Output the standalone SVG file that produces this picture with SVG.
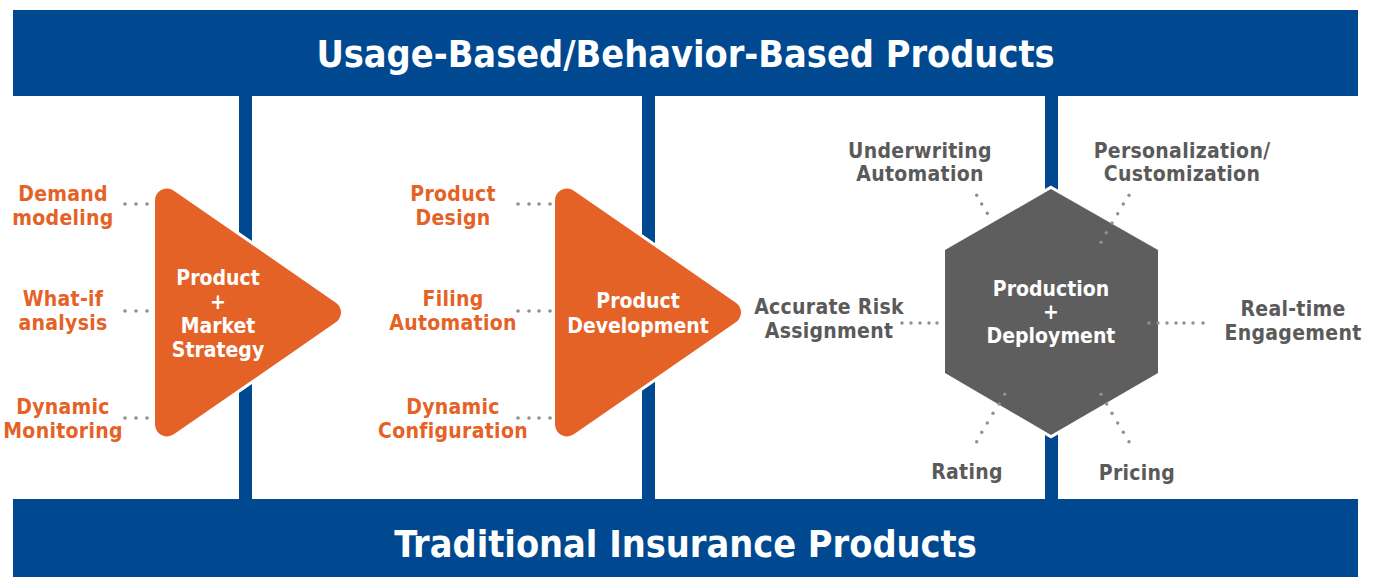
<svg xmlns="http://www.w3.org/2000/svg" width="1374" height="577" viewBox="0 0 1374 577">
  <style>
    text { font-family: "DejaVu Sans Condensed", "DejaVu Sans", sans-serif; font-stretch: condensed; font-weight: bold; text-anchor: middle; }
    .banner { fill: #004990; }
    .pillar { fill: #004990; }
    .title { fill: #ffffff; font-size: 37.5px; }
    .lbl-o { fill: #e56227; font-size: 21px; letter-spacing: 0.3px; }
    .lbl-g { fill: #5a5a5a; font-size: 21px; letter-spacing: 0.3px; }
    .in { fill: #ffffff; font-size: 21px; }
    .tri-halo { fill: #ffffff; stroke: #ffffff; stroke-width: 30; stroke-linejoin: round; }
    .tri { fill: #e56227; stroke: #e56227; stroke-width: 24; stroke-linejoin: round; }
    .hex { fill: #5e5e5e; stroke: #ffffff; stroke-width: 6; paint-order: stroke; }
    .dot { fill: #8f8f8f; }
  </style>

  <!-- frame: banners and pillars -->
  <g id="frame">
    <rect class="pillar" x="239" y="90" width="13" height="415"/>
    <rect class="pillar" x="642" y="90" width="13" height="415"/>
    <rect class="pillar" x="1045" y="90" width="13" height="415"/>
    <g id="banner-top">
      <rect class="banner" x="13" y="10" width="1345" height="86"/>
      <text class="title" x="685.5" y="67">Usage-Based/Behavior-Based Products</text>
    </g>
    <g id="banner-bottom">
      <rect class="banner" x="13" y="499" width="1345" height="78"/>
      <text class="title" x="685.5" y="557">Traditional Insurance Products</text>
    </g>
  </g>

  <!-- stage 1 -->
  <g id="node-market-strategy">
    <polygon class="tri-halo" points="167,200.5 329,312.5 167,424.5"/>
    <polygon class="tri" points="167,200.5 329,312.5 167,424.5"/>
    <text class="in" x="218" y="285">Product</text>
    <text class="in" x="218" y="309">+</text>
    <text class="in" x="218" y="333">Market</text>
    <text class="in" x="218" y="357">Strategy</text>
  </g>
  <g id="label-demand"><text class="lbl-o" x="63" y="201">Demand</text><text class="lbl-o" x="63" y="225">modeling</text></g>
  <g id="label-whatif"><text class="lbl-o" x="63" y="306">What-if</text><text class="lbl-o" x="63" y="330">analysis</text></g>
  <g id="label-monitoring"><text class="lbl-o" x="63" y="414">Dynamic</text><text class="lbl-o" x="63" y="438">Monitoring</text></g>

  <!-- stage 2 -->
  <g id="node-product-development">
    <polygon class="tri-halo" points="567,200.5 729,312.5 567,424.5"/>
    <polygon class="tri" points="567,200.5 729,312.5 567,424.5"/>
    <text class="in" x="638" y="308">Product</text>
    <text class="in" x="638" y="333">Development</text>
  </g>
  <g id="label-design"><text class="lbl-o" x="453" y="201">Product</text><text class="lbl-o" x="453" y="225">Design</text></g>
  <g id="label-filing"><text class="lbl-o" x="453" y="306">Filing</text><text class="lbl-o" x="453" y="330">Automation</text></g>
  <g id="label-configuration"><text class="lbl-o" x="453" y="414">Dynamic</text><text class="lbl-o" x="453" y="438">Configuration</text></g>

  <!-- stage 3 -->
  <g id="node-production-deployment">
    <polygon class="hex" points="1051,189 1158,250 1158,373 1051,435 945,373 945,250"/>
    <text class="in" x="1051" y="296">Production</text>
    <text class="in" x="1051" y="319">+</text>
    <text class="in" x="1051" y="343">Deployment</text>
  </g>
  <g id="label-underwriting"><text class="lbl-g" x="920" y="158">Underwriting</text><text class="lbl-g" x="920" y="181">Automation</text></g>
  <g id="label-personalization"><text class="lbl-g" x="1182" y="158">Personalization/</text><text class="lbl-g" x="1182" y="181">Customization</text></g>
  <g id="label-risk"><text class="lbl-g" x="829" y="314">Accurate Risk</text><text class="lbl-g" x="829" y="338">Assignment</text></g>
  <g id="label-engagement"><text class="lbl-g" x="1293" y="316">Real-time</text><text class="lbl-g" x="1293" y="340">Engagement</text></g>
  <g id="label-rating"><text class="lbl-g" x="967" y="479">Rating</text></g>
  <g id="label-pricing"><text class="lbl-g" x="1137" y="480">Pricing</text></g>

  <!-- dotted leaders -->
  <g id="connectors">
    <g><circle class="dot" cx="125" cy="204" r="1.8"/><circle class="dot" cx="136" cy="204" r="1.8"/><circle class="dot" cx="147" cy="204" r="1.8"/></g>
    <g><circle class="dot" cx="125" cy="311" r="1.8"/><circle class="dot" cx="136" cy="311" r="1.8"/><circle class="dot" cx="147" cy="311" r="1.8"/></g>
    <g><circle class="dot" cx="125" cy="418" r="1.8"/><circle class="dot" cx="136" cy="418" r="1.8"/><circle class="dot" cx="147" cy="418" r="1.8"/></g>

    <g><circle class="dot" cx="518" cy="204" r="1.8"/><circle class="dot" cx="529" cy="204" r="1.8"/><circle class="dot" cx="539" cy="204" r="1.8"/><circle class="dot" cx="550" cy="204" r="1.8"/></g>
    <g><circle class="dot" cx="518" cy="311" r="1.8"/><circle class="dot" cx="529" cy="311" r="1.8"/><circle class="dot" cx="539" cy="311" r="1.8"/><circle class="dot" cx="550" cy="311" r="1.8"/></g>
    <g><circle class="dot" cx="518" cy="418" r="1.8"/><circle class="dot" cx="529" cy="418" r="1.8"/><circle class="dot" cx="539" cy="418" r="1.8"/><circle class="dot" cx="550" cy="418" r="1.8"/></g>

    <g><circle class="dot" cx="902" cy="323" r="1.7"/><circle class="dot" cx="911" cy="323" r="1.7"/><circle class="dot" cx="920" cy="323" r="1.7"/><circle class="dot" cx="929" cy="323" r="1.7"/><circle class="dot" cx="937" cy="323" r="1.7"/></g>
    <g><circle class="dot" cx="1149" cy="323" r="1.7"/><circle class="dot" cx="1158" cy="323" r="1.7"/><circle class="dot" cx="1167" cy="323" r="1.7"/><circle class="dot" cx="1176" cy="323" r="1.7"/><circle class="dot" cx="1184" cy="323" r="1.7"/><circle class="dot" cx="1193" cy="323" r="1.7"/><circle class="dot" cx="1203" cy="323" r="1.7"/></g>

    <g><circle class="dot" cx="976.7" cy="195.3" r="1.7"/><circle class="dot" cx="981.7" cy="204" r="1.7"/><circle class="dot" cx="987.3" cy="213.3" r="1.7"/></g>
    <g><circle class="dot" cx="1129" cy="195.3" r="1.7"/><circle class="dot" cx="1123.3" cy="204" r="1.7"/><circle class="dot" cx="1117.7" cy="213.7" r="1.7"/><circle class="dot" cx="1112" cy="223" r="1.7"/><circle class="dot" cx="1106.3" cy="232.7" r="1.7"/><circle class="dot" cx="1101" cy="242.3" r="1.7"/></g>
    <g><circle class="dot" cx="1004.7" cy="394.3" r="1.7"/><circle class="dot" cx="999" cy="404" r="1.7"/><circle class="dot" cx="993" cy="413.3" r="1.7"/><circle class="dot" cx="987.3" cy="423" r="1.7"/><circle class="dot" cx="981.7" cy="432.3" r="1.7"/><circle class="dot" cx="976.7" cy="441.7" r="1.7"/></g>
    <g><circle class="dot" cx="1101" cy="394.3" r="1.7"/><circle class="dot" cx="1106.7" cy="404" r="1.7"/><circle class="dot" cx="1112" cy="413.3" r="1.7"/><circle class="dot" cx="1117.7" cy="423" r="1.7"/><circle class="dot" cx="1123.3" cy="432.3" r="1.7"/><circle class="dot" cx="1129" cy="441.7" r="1.7"/></g>
  </g>
</svg>
